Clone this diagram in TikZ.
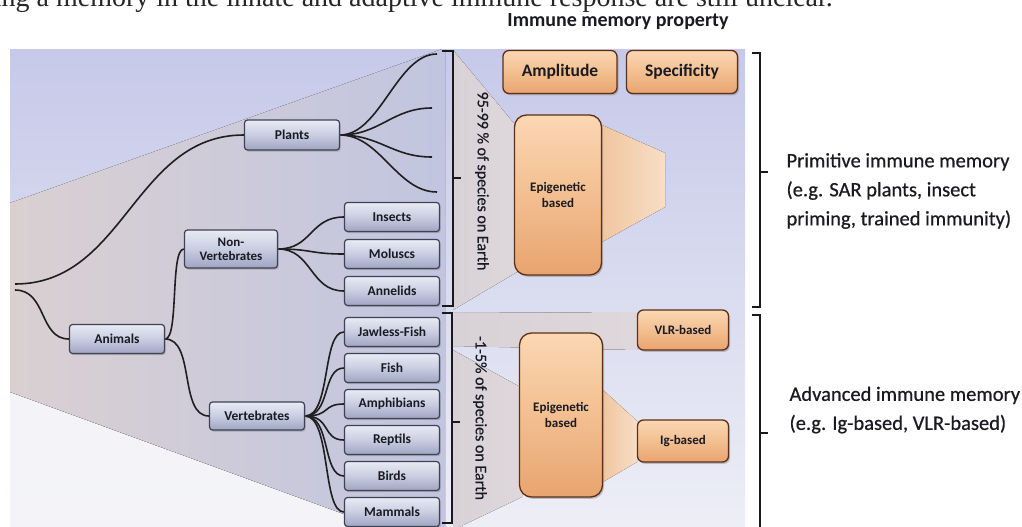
\documentclass[tikz,border=0pt]{standalone}
\usepackage{fontspec}
\setmainfont{Carlito}
\newfontfamily\seriffont{Liberation Serif}
\newfontfamily\heavyfont[FakeBold=0.6]{Carlito}
\usetikzlibrary{shadows}
\definecolor{lav}{HTML}{C6C9E9}
\definecolor{lavlow}{HTML}{EDEEF6}
\definecolor{conel}{HTML}{DAD0D2}
\definecolor{coner}{HTML}{C1C5E0}
\definecolor{whitel}{HTML}{F4F4F8}
\definecolor{gtop}{HTML}{E8EAF3}
\definecolor{gmid}{HTML}{C9CDE1}
\definecolor{gbot}{HTML}{9FA4C2}
\definecolor{gedge}{HTML}{3E4254}
\definecolor{otop}{HTML}{FAD7B3}
\definecolor{omid}{HTML}{F3BF90}
\definecolor{obot}{HTML}{E8A470}
\definecolor{oedge}{HTML}{5E2F16}
\definecolor{wedgel}{HTML}{D8D2D6}
\definecolor{wedger}{HTML}{DED8DC}
\definecolor{owl}{HTML}{F0C6A0}
\definecolor{owr}{HTML}{F7DEC6}
\definecolor{txt}{HTML}{1A1A22}
\pgfdeclarelayer{back}
\pgfdeclarelayer{mid}
\pgfsetlayers{back,mid,main}
\begin{document}
\begin{tikzpicture}[x=1pt,y=-1pt,
  graybox/.style={draw=gedge, line width=1.2pt, rounded corners=3pt,
    top color=gtop, bottom color=gbot, middle color=gmid,
    minimum width=95pt, minimum height=29pt, inner sep=1pt,
    font=\bfseries\fontsize{13.5}{13.5}\selectfont, text=txt, align=center,
    drop shadow={shadow xshift=1.2pt, shadow yshift=-1.6pt, opacity=0.45}},
  orangebox/.style={draw=oedge, line width=1.3pt, rounded corners=6pt,
    top color=otop, bottom color=obot, middle color=omid,
    inner sep=1pt, text=txt, align=center,
    drop shadow={shadow xshift=1.5pt, shadow yshift=-1.8pt, opacity=0.45}},
  branch/.style={line width=1.6pt, draw=black!88},
  bracket/.style={line width=1.5pt, draw=black!90},
  wedge/.style={left color=wedgel, right color=wedger, draw=none},
  owedge/.style={left color=owl, right color=owr, draw=none},
  species/.style={font=\heavyfont\fontsize{16}{16}\selectfont, text=txt, rotate=-90},
  label/.style={font=\heavyfont\fontsize{20.5}{29}\selectfont, text=txt, align=left, anchor=west}
]
\useasboundingbox (0,0) rectangle (1022,527);
\begin{pgfonlayer}{back}
\begin{scope}
\clip (0,0) rectangle (1022,527);
% panel
\fill[top color=lav, bottom color=lavlow] (10,50) rectangle (745,527);
\begin{scope}
\clip (10,50) rectangle (745,527);
\fill[top color=whitel!80!lavlow, bottom color=whitel] (10,392) -- (445,551) -- (445,540) -- (10,540) -- cycle;
\fill[left color=conel, right color=coner] (10,203) -- (445,48) -- (445,551) -- (10,392) -- cycle;
% wedges
\fill[wedge] (453,50) -- (517,127) -- (517,272) -- (453,310) -- cycle;
\fill[owedge] (602,125) -- (665,153) -- (665,207) -- (602,242) -- cycle;
\fill[wedge] (453,313) -- (637,312) -- (637,350) -- (453,346) -- cycle;
\fill[wedge] (453,350) -- (522,388) -- (522,497) -- (453,530) -- cycle;
\fill[owedge] (603,390) -- (637,421) -- (637,462) -- (603,482) -- cycle;
\end{scope}
\end{scope}
\end{pgfonlayer}

% top cut-off sentence
\begin{scope}
\clip (0,0) rectangle (1022,527);
\node[anchor=base east, inner sep=0pt, font=\seriffont\fontsize{28}{28}\selectfont, text=black!85]
  (sentence) at (833,7) {ing a memory in the innate and adaptive immune response are still unclear.};
\end{scope}

% tree nodes
\coordinate (rootA) at (15,284);
\coordinate (rootB) at (15,290);
\node[graybox, minimum height=30pt] (plants) at (292,135) {Plants};
\node[graybox, minimum width=93pt, minimum height=38pt, font=\bfseries\fontsize{13}{14}\selectfont] (nonvert) at (231,249) {Non-\\Vertebrates};
\node[graybox] (animals) at (117,339) {Animals};
\node[graybox, minimum height=28pt] (vert) at (257,416) {Vertebrates};
\node[graybox] (insects) at (392,217) {Insects};
\node[graybox] (moluscs) at (392,254) {Moluscs};
\node[graybox] (annelids) at (392,291) {Annelids};
\node[graybox] (jawless) at (392,332) {Jawless-Fish};
\node[graybox] (fish) at (392,368) {Fish};
\node[graybox] (amphib) at (392,404) {Amphibians};
\node[graybox] (reptils) at (392,440) {Reptils};
\node[graybox] (birds) at (392,476) {Birds};
\node[graybox] (mammals) at (392,512) {Mammals};
\coordinate (p1) at (437,54);
\coordinate (p2) at (432,108);
\coordinate (p3) at (432,157);
\coordinate (p4) at (437,192);

% branches
\begin{pgfonlayer}{mid}
\draw[branch] (rootA) .. controls +(110,0) and +(-110,0) .. (plants.west);
\draw[branch] (rootB) .. controls +(32,0) and +(-30,0) .. (animals.west);
\draw[branch] (animals.east) .. controls +(14,0) and +(-14,0) .. (nonvert.west);
\draw[branch] (animals.east) .. controls +(30,0) and +(-30,0) .. (vert.west);
\foreach \t in {insects,moluscs,annelids}
  \draw[branch] (nonvert.east) .. controls +(34,0) and +(-34,0) .. (\t.west);
\foreach \t in {jawless,fish,amphib,reptils,birds,mammals}
  \draw[branch] (vert.east) .. controls +(26,0) and +(-22,0) .. (\t.west);
\foreach \t in {p1,p2,p3,p4}
  \draw[branch] (plants.east) .. controls +(40,0) and +(-40,0) .. (\t);
\end{pgfonlayer}

% brackets
\draw[bracket] (442,51) -- (453,51) -- (453,306) -- (442,306);
\draw[bracket] (453,178) -- (461,178);
\draw[bracket] (442,313) -- (452,313) -- (452,523) -- (442,523);
\draw[bracket] (452,422) -- (460,422);
\draw[bracket] (752,53) -- (760,53) -- (760,307) -- (752,307);
\draw[bracket] (760,172) -- (768,172);
\draw[bracket] (752,315) -- (760,315) -- (760,535);
\draw[bracket] (760,433) -- (768,433);

% species labels
\node[species] (upperpct) at (482,181) {95-99 \% of species on Earth};
\node[species] (lowerpct) at (480,418) {-1-5\% of species on Earth};

% orange boxes
\node[font=\bfseries\fontsize{20}{20}\selectfont, text=txt] (heading) at (618,22) {Immune memory property};
\node[orangebox, minimum width=114pt, minimum height=43pt, font=\bfseries\fontsize{17.5}{17.5}\selectfont] (ampl) at (560,72) {Amplitude};
\node[orangebox, minimum width=111pt, minimum height=43pt, font=\bfseries\fontsize{17.5}{17.5}\selectfont] (spec) at (682,72) {Specificity};
\node[orangebox, rounded corners=12pt, minimum width=87pt, minimum height=160pt, font=\bfseries\fontsize{13}{16}\selectfont] (epi1) at (558,195) {Epigenetic\\based};
\node[orangebox, minimum width=91pt, minimum height=40pt, font=\bfseries\fontsize{13}{15}\selectfont] (vlr) at (683,330) {VLR-based};
\node[orangebox, rounded corners=12pt, minimum width=83pt, minimum height=164pt, font=\bfseries\fontsize{13}{16}\selectfont] (epi2) at (561,415) {Epigenetic\\based};
\node[orangebox, minimum width=91pt, minimum height=42pt, font=\bfseries\fontsize{13}{15}\selectfont] (ig) at (683,441) {Ig-based};

% right labels
\node[label] (prim) at (783,191) {Primitive immune memory\\(e.g. SAR plants, insect\\priming, trained immunity)};
\node[label] (adv) at (786,410) {Advanced immune memory\\(e.g. Ig-based, VLR-based)};
\end{tikzpicture}
\end{document}
